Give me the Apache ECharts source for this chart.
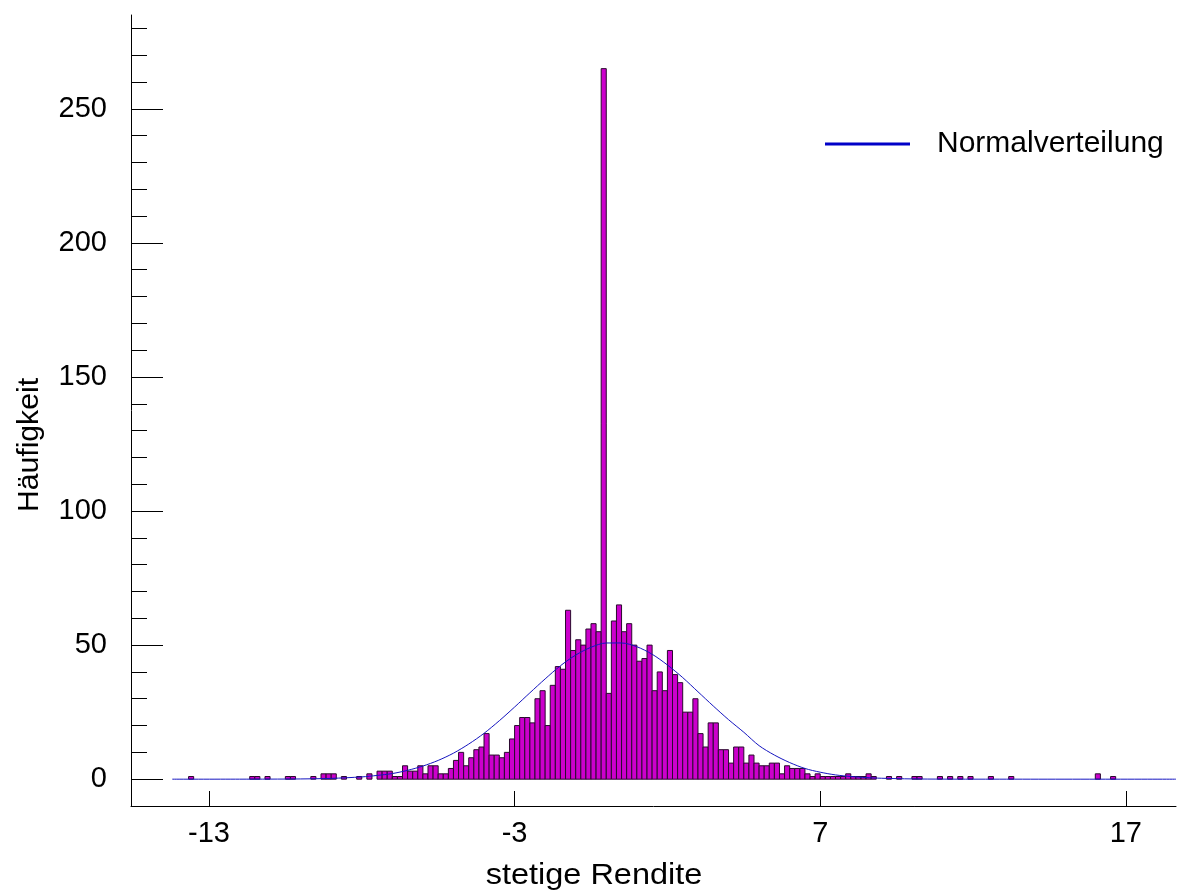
<!DOCTYPE html>
<html>
<head>
<meta charset="utf-8">
<script src="https://cdn.jsdelivr.net/npm/echarts@6/dist/echarts.min.js"></script>
<style>
  html, body { margin: 0; padding: 0; background: #ffffff; }
  #chart { width: 1188px; height: 890px; }
</style>
</head>
<body>
<div id="chart"></div>
<script>
// ---------- data ----------
// histogram bin width (units of "stetige Rendite"); bin k covers [(k-1)*w, k*w]
const binWidth = 1 / 6;

// left tail, bins k = -81 ... -45
const leftTailStart = -81;
const leftTailCounts = [1, 0, 0, 0, 0, 0, 0, 0, 0, 0, 0, 0, 1, 1, 0, 1, 0, 0, 0, 1, 1, 0, 0, 0, 1, 0, 2, 2, 2, 0, 1, 0, 0, 1, 0, 2, 0];

// central part, bins k = -44 ... 45
const centerStart = -44;
const centerCounts = [
  3, 3, 3, 1, 1, 5, 3, 3, 5, 2, 5, 5, 2, 2, 4, 7, 10, 5, 8, 11, 12, 17, 9, 9, 8, 10, 15, 20, 23, 23,
  21, 30, 33, 20, 35, 42, 41, 63, 48, 52, 50, 56, 58, 55,
  265,
  32, 59, 65, 55, 58, 50, 44, 45, 50, 33, 40, 33, 48,
  39, 36, 25, 25, 30, 17, 12, 21, 21, 11, 11, 6, 12, 12, 6, 9, 6, 5, 5, 6, 6, 2, 5, 4, 4, 4, 2, 1, 2, 1, 1, 1
];

// right tail, bins k = 46 ... 100
const rightTailStart = 46;
const rightTailCounts = [
  1, 1, 2, 1, 1, 1, 2, 1, 0, 0, 1, 0, 1, 0, 0, 1, 1, 0, 0, 0, 1, 0, 1, 0, 1, 0, 1, 0, 0, 0, 1, 0, 0, 0, 1,
  0, 0, 0, 0, 0, 0, 0, 0, 0, 0, 0, 0, 0, 0, 0, 0, 2, 0, 0, 1
];

// fitted normal curve
const curveX = [-14.2, -12, -11, -10, -9, -8, -7.5, -7, -6.5, -6, -5.5, -5, -4.5, -4, -3.5, -3, -2.5, -2, -1.5, -1, -0.5, 0, 0.5, 1, 1.5, 2, 2.5, 3, 3.5, 4, 4.5, 5, 5.5, 6, 6.5, 7, 7.5, 8, 8.5, 9, 10, 11, 12, 18.64];
const curveY = [0, 0.01, 0.03, 0.09, 0.3, 0.85, 1.4, 2.1, 3.3, 4.9, 7.0, 9.7, 13.1, 17.1, 21.8, 26.9, 32.2, 37.4, 42.3, 46.3, 49.2, 50.8, 50.8, 49.4, 46.6, 42.6, 37.9, 32.6, 27.3, 22.2, 17.5, 12.5, 9.0, 6.2, 4.0, 2.6, 1.6, 1.0, 0.6, 0.35, 0.1, 0.03, 0.01, 0];

// axes
const xTickValues = [-13, -3, 7, 17];
const yMajorTicks = [0, 50, 100, 150, 200, 250];
const yMinorTicks = [0, 10, 20, 30, 40, 50, 60, 70, 80, 90, 100, 110, 120, 130, 140, 150, 160, 170, 180, 190, 200, 210, 220, 230, 240, 250, 260, 270, 280];
const xMin = -15.55, xMax = 18.64, yMin = -10, yMax = 285;

const xTitle = 'stetige Rendite';
const yTitle = 'Häufigkeit';
const curveName = 'Normalverteilung';

// ---------- build ----------
function addBins(out, start, counts) {
  counts.forEach(function (c, i) {
    const k = start + i;
    if (c > 0) out.push([(k - 1) * binWidth, k * binWidth, c]);
  });
}
const bins = [];
addBins(bins, leftTailStart, leftTailCounts);
addBins(bins, centerStart, centerCounts);
addBins(bins, rightTailStart, rightTailCounts);

const curveData = curveX.map(function (x, i) { return [x, curveY[i]]; });

const FONT = '"Liberation Sans", Arial, sans-serif';
const FS = 29;
const chart = echarts.init(document.getElementById('chart'), null, { renderer: 'canvas' });

chart.setOption({
  animation: false,
  backgroundColor: '#ffffff',
  grid: { left: 131, right: 12, top: 15, bottom: 84, containLabel: false },
  xAxis: {
    type: 'value', min: xMin, max: xMax,
    axisLine: { show: true, onZero: false, lineStyle: { color: '#000', width: 1 } },
    axisTick: { show: true, inside: true, length: 15, customValues: xTickValues, lineStyle: { color: '#000', width: 1 } },
    axisLabel: { customValues: xTickValues, fontSize: FS, color: '#000', fontFamily: FONT, margin: 13 },
    splitLine: { show: false }
  },
  yAxis: [
    {
      type: 'value', min: yMin, max: yMax, position: 'left',
      axisLine: { show: true, onZero: false, lineStyle: { color: '#000', width: 1 } },
      axisTick: { show: true, inside: true, length: 16, customValues: yMinorTicks, lineStyle: { color: '#000', width: 1 } },
      axisLabel: { show: false },
      splitLine: { show: false }
    },
    {
      type: 'value', min: yMin, max: yMax, position: 'left',
      axisLine: { show: false, onZero: false },
      axisTick: { show: true, inside: true, length: 32, customValues: yMajorTicks, lineStyle: { color: '#000', width: 1 } },
      axisLabel: { customValues: yMajorTicks, fontSize: FS, color: '#000', fontFamily: FONT, margin: 24 },
      splitLine: { show: false }
    }
  ],
  legend: {
    data: [{ name: curveName, icon: 'rect' }],
    left: 820, top: 124,
    itemWidth: 85, itemHeight: 3,
    textStyle: { fontSize: 30, color: '#000', fontFamily: FONT, padding: [0, 0, 0, 22] }
  },
  graphic: [
    { type: 'text', x: 594, y: 876, scaleX: 1.12, style: { text: xTitle, fill: '#000', font: FS + 'px ' + FONT, textAlign: 'center', textVerticalAlign: 'middle' } },
    { type: 'text', x: 30, y: 445, rotation: Math.PI / 2, scaleX: 1.04, style: { text: yTitle, fill: '#000', font: FS + 'px ' + FONT, textAlign: 'center', textVerticalAlign: 'middle' } }
  ],
  series: [
    {
      type: 'custom', name: 'Häufigkeit', xAxisIndex: 0, yAxisIndex: 0,
      data: bins,
      encode: { x: [0, 1], y: 2 },
      renderItem: function (params, api) {
        const p0 = api.coord([api.value(0), api.value(2)]);
        const p1 = api.coord([api.value(1), 0]);
        return {
          type: 'rect',
          shape: { x: p0[0], y: p0[1], width: p1[0] - p0[0], height: p1[1] - p0[1] },
          style: { fill: '#CC00CC', stroke: '#2a0a2e', lineWidth: 1 }
        };
      },
      z: 2
    },
    {
      type: 'line', name: curveName, xAxisIndex: 0, yAxisIndex: 0,
      data: curveData, showSymbol: false, smooth: 0.3,
      itemStyle: { color: '#0000C8' },
      lineStyle: { color: '#1414C0', width: 1 },
      z: 3
    }
  ]
});
</script>
</body>
</html>
